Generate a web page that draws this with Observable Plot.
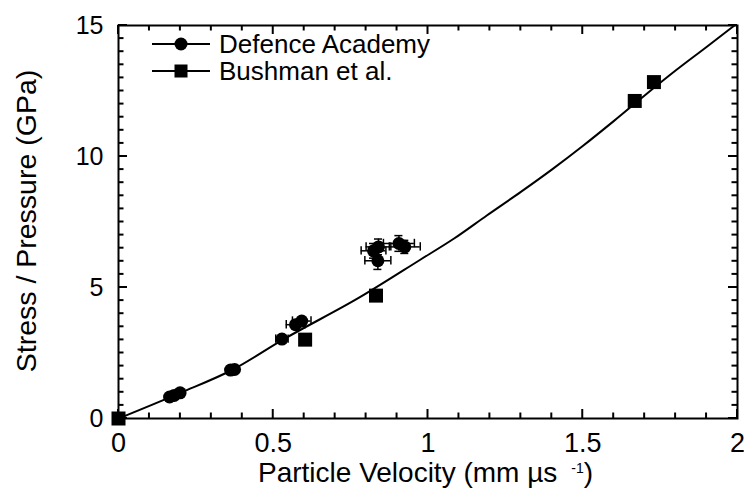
<!DOCTYPE html>
<html><head><meta charset="utf-8">
<script src="https://cdn.jsdelivr.net/npm/d3@7"></script>
<script src="https://cdn.jsdelivr.net/npm/@observablehq/plot@0.6"></script>
<style>html,body{margin:0;padding:0;background:#fff;overflow:hidden}</style>
</head><body><div id="chart"></div>
<script>
// Fit curve
const fitX = [0, 0.2, 0.37, 0.53, 0.78, 0.975, 1.083, 1.19, 1.3, 1.4, 1.5, 1.6, 1.7, 1.8, 1.9, 1.99];
const fitY = [0, 0.98, 1.87, 3.0, 4.63, 6.06, 6.86, 7.75, 8.65, 9.5, 10.4, 11.35, 12.33, 13.28, 14.18, 15.0];

// Defence Academy data with error bars
const defX    = [0.165, 0.18, 0.199, 0.362, 0.375, 0.528, 0.572, 0.592, 0.824, 0.840, 0.838, 0.906, 0.925];
const defY    = [0.82, 0.88, 0.98, 1.85, 1.87, 3.03, 3.58, 3.72, 6.40, 6.55, 6.02, 6.68, 6.55];
const defXErr = [0.01, 0.01, 0.01, 0.01, 0.01, 0.02, 0.03, 0.03, 0.04, 0.04, 0.042, 0.05, 0.05];
const defYErr = [0.1, 0.1, 0.1, 0.1, 0.1, 0.1, 0.1, 0.1, 0.28, 0.3, 0.33, 0.3, 0.25];

// Bushman et al. data
const bushX = [0, 0.603, 0.832, 1.668, 1.73];
const bushY = [0, 3.01, 4.69, 12.12, 12.84];

// Ticks
const xMajor = [0, 0.5, 1, 1.5, 2];
const xTickLabels = ["0", "0.5", "1", "1.5", "2"];
const xMinor = [0.1, 0.2, 0.3, 0.4, 0.6, 0.7, 0.8, 0.9, 1.1, 1.2, 1.3, 1.4, 1.6, 1.7, 1.8, 1.9];
const yMajor = [0, 5, 10, 15];
const yTickLabels = ["0", "5", "10", "15"];
const yMinor = [0.5,1,1.5,2,2.5,3,3.5,4,4.5,5.5,6,6.5,7,7.5,8,8.5,9,9.5,10.5,11,11.5,12,12.5,13,13.5,14,14.5];

const seriesNames = ["Defence Academy", "Bushman et al."];

const fit = fitX.map((x, i) => ({x, y: fitY[i]}));
const defence = defX.map((x, i) => ({x, y: defY[i], xe: defXErr[i], ye: defYErr[i]}));
const bush = bushX.map((x, i) => ({x, y: bushY[i]}));

const capX = 0.013, capY = 0.16;

const plot = Plot.plot({
  width: 744, height: 498,
  marginLeft: 118, marginRight: 7, marginTop: 25, marginBottom: 80,
  x: {domain: [0, 2]},
  y: {domain: [0, 15]},
  style: {fontFamily: "'Liberation Sans', Arial, sans-serif", color: "#000", background: "#fff", overflow: "visible"},
  marks: [
    Plot.axisX({ticks: xMajor, tickSize: 0, tickPadding: 14, tickFormat: d => xTickLabels[xMajor.indexOf(d)], fontSize: 27, label: null}),
    Plot.axisY({ticks: yMajor, tickSize: 0, tickPadding: 15, tickFormat: d => yTickLabels[yMajor.indexOf(d)], fontSize: 25, label: null}),
    Plot.frame({stroke: "black", strokeWidth: 2, fill: "none"}),
    // fit curve
    Plot.line(fit, {x: "x", y: "y", stroke: "black", strokeWidth: 2, curve: "monotone-x"}),
    // error bars
    Plot.ruleY(defence, {y: "y", x1: d => d.x - d.xe, x2: d => d.x + d.xe, strokeWidth: 1.5}),
    Plot.ruleX(defence, {x: d => d.x - d.xe, y1: d => d.y - capY, y2: d => d.y + capY, strokeWidth: 1.5}),
    Plot.ruleX(defence, {x: d => d.x + d.xe, y1: d => d.y - capY, y2: d => d.y + capY, strokeWidth: 1.5}),
    Plot.ruleX(defence, {x: "x", y1: d => d.y - d.ye, y2: d => d.y + d.ye, strokeWidth: 1.5}),
    Plot.ruleY(defence, {y: d => d.y - d.ye, x1: d => d.x - capX, x2: d => d.x + capX, strokeWidth: 1.5}),
    Plot.ruleY(defence, {y: d => d.y + d.ye, x1: d => d.x - capX, x2: d => d.x + capX, strokeWidth: 1.5}),
    // markers
    Plot.dot(defence, {x: "x", y: "y", r: 6.5, fill: "black", stroke: "none"}),
    Plot.dot(bush, {x: "x", y: "y", symbol: "square", r: 7.9, fill: "black", stroke: "none"})
  ]
});

const svg = d3.select(plot);
const font = "'Liberation Sans', Arial, sans-serif";

// Inward ticks on all four sides, positioned by the plot's own scales
let scaleXFn, scaleYFn;
try {
  const sx = plot.scale("x"), sy = plot.scale("y");
  scaleXFn = v => sx.apply(v); scaleYFn = v => sy.apply(v);
} catch (e) {
  const fx = d3.scaleLinear([0, 2], [118, 737]), fy = d3.scaleLinear([0, 15], [418, 25]);
  scaleXFn = fx; scaleYFn = fy;
}
const frameL = scaleXFn(0), frameR = scaleXFn(2), frameB = scaleYFn(0), frameT = scaleYFn(15);
const tg = svg.append("g").attr("stroke", "black").attr("stroke-width", 2);
const addTicksX = (vals, len) => vals.forEach(v => {
  tg.append("line").attr("x1", scaleXFn(v)).attr("x2", scaleXFn(v)).attr("y1", frameB).attr("y2", frameB - len);
  tg.append("line").attr("x1", scaleXFn(v)).attr("x2", scaleXFn(v)).attr("y1", frameT).attr("y2", frameT + len);
});
const addTicksY = (vals, len) => vals.forEach(v => {
  tg.append("line").attr("y1", scaleYFn(v)).attr("y2", scaleYFn(v)).attr("x1", frameL).attr("x2", frameL + len);
  tg.append("line").attr("y1", scaleYFn(v)).attr("y2", scaleYFn(v)).attr("x1", frameR).attr("x2", frameR - len);
});
addTicksX(xMajor, 9); addTicksX(xMinor, 5.5);
addTicksY(yMajor, 9); addTicksY(yMinor, 5.5);

// Axis titles
const xt = svg.append("text")
  .attr("x", 258).attr("y", 482).attr("text-anchor", "start")
  .attr("font-family", font).attr("font-size", 28).attr("fill", "black");
xt.append("tspan").text("Particle Velocity (mm µs");
xt.append("tspan").attr("dx", 14).attr("dy", -9).attr("font-size", 14).text("-1");
xt.append("tspan").attr("dy", 9).attr("font-size", 28).text(")");

svg.append("text")
  .attr("transform", "translate(36,221) rotate(-90)")
  .attr("text-anchor", "middle")
  .attr("font-family", font).attr("font-size", 28.5).attr("fill", "black")
  .text("Stress / Pressure (GPa)");

// Legend
const lg = svg.append("g").attr("text-anchor", "start");
const rows = [44, 71];
rows.forEach((yy, i) => {
  lg.append("line").attr("x1", 152).attr("x2", 210).attr("y1", yy).attr("y2", yy)
    .attr("stroke", "black").attr("stroke-width", 2);
  if (i === 0) {
    lg.append("circle").attr("cx", 181).attr("cy", yy).attr("r", 6.5).attr("fill", "black");
  } else {
    lg.append("rect").attr("x", 174.5).attr("y", yy - 6.5).attr("width", 13).attr("height", 13).attr("fill", "black");
  }
  lg.append("text").attr("x", 219).attr("y", yy).attr("dy", "0.36em").attr("text-anchor", "start")
    .attr("font-family", font).attr("font-size", 26).attr("fill", "black")
    .text(seriesNames[i]);
});

document.getElementById("chart").appendChild(plot);
</script>
</body></html>
